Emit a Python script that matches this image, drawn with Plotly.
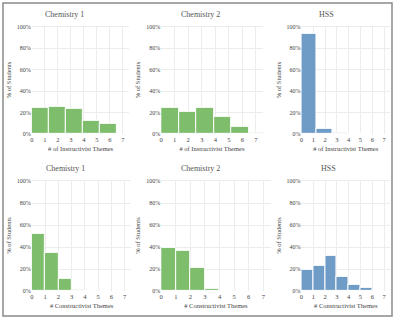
import plotly.graph_objects as go

# ---- data ----
tick_vals = [0, 1, 2, 3, 4, 5, 6, 7]
y_ticks = [0, 20, 40, 60, 80, 100]
y_tick_text = ["0%", "20%", "40%", "60%", "80%", "100%"]
panel_titles = ["Chemistry 1", "Chemistry 2", "HSS"]

instr_bin_width = 1.3
instr_chem1 = [24.2, 25.4, 23.3, 12.8, 10.0]
instr_chem2 = [24.2, 20.8, 24.2, 16.2, 7.2, 1.3]
instr_hss = [94.0, 4.5, 0.8, 0.5]

constr_bin_width = 1.0
constr_chem1 = [52.2, 34.4, 10.8, 1.6, 0.3]
constr_chem2 = [39.6, 36.2, 21.0, 2.5]
constr_hss = [19.6, 23.2, 32.0, 13.2, 5.8, 2.6]

GREEN = "#7dbd6b"
BLUE = "#6f9bc7"
FONT = "Liberation Serif, Times New Roman, serif"
TEXT = "#444"

rows = [
    ([instr_chem1, instr_chem2, instr_hss], instr_bin_width, "# of Instructivist Themes"),
    ([constr_chem1, constr_chem2, constr_hss], constr_bin_width, "# Constructivist Themes"),
]
colors = [GREEN, GREEN, BLUE]

W, H = 398, 320
ML, MT, MR, MB = 1, 1, 6, 4
PW, PH = W - ML - MR, H - MT - MB


def fx(px):
    return (px - ML) / PW


def fy(py):
    return (H - MB - py) / PH


x_px = [[(30, 128), (160, 262), (301, 390)],
        [(30, 130), (160, 270), (301, 390)]]
y_px = [(24, 133), (179, 291)]
title_px = [[(63, 12.5), (200, 12.5), (326, 12.5)],
            [(64, 167.5), (200, 167.5), (328, 167.5)]]

fig = go.Figure()
annotations = []
k = 0
for r, (series, bw, xtitle) in enumerate(rows):
    for c in range(3):
        k += 1
        vals = series[c]
        xs = [i * bw + bw / 2 for i in range(len(vals))]
        xa = "x" if k == 1 else f"x{k}"
        ya = "y" if k == 1 else f"y{k}"
        fig.add_trace(go.Bar(
            x=xs, y=vals, width=[bw] * len(vals), xaxis=xa, yaxis=ya,
            marker=dict(color=colors[c], line=dict(color="white", width=1)),
            showlegend=False, hoverinfo="skip",
        ))
        xkey = "xaxis" if k == 1 else f"xaxis{k}"
        ykey = "yaxis" if k == 1 else f"yaxis{k}"
        fig.layout[xkey] = go.layout.XAxis(
            domain=[fx(x_px[r][c][0]), fx(x_px[r][c][1])], anchor=ya,
            range=[0, 7.5], tickmode="array", tickvals=tick_vals,
            ticktext=[str(v) for v in tick_vals],
            showgrid=True, gridcolor="#ececec",
            gridwidth=1, zeroline=False, showline=False, ticks="",
            tickfont=dict(family=FONT, size=6.5, color=TEXT),
            title=dict(text=xtitle, font=dict(family=FONT, size=6.5, color=TEXT), standoff=4),
        )
        fig.layout[ykey] = go.layout.YAxis(
            domain=[fy(y_px[r][1]), fy(y_px[r][0])], anchor=xa,
            range=[0, 101], tickmode="array", tickvals=y_ticks, ticktext=y_tick_text,
            showgrid=True, gridcolor="#ececec", gridwidth=1, zeroline=False,
            showline=False, ticks="",
            tickfont=dict(family=FONT, size=6, color=TEXT),
            title=dict(text="% of Students", font=dict(family=FONT, size=6.5, color=TEXT), standoff=4),
        )
        tx, ty = title_px[r][c]
        annotations.append(dict(
            text=panel_titles[c], xref="paper", yref="paper", x=fx(tx), y=fy(ty),
            xanchor="center", yanchor="middle", showarrow=False,
            font=dict(family=FONT, size=8, color="#555"),
        ))

fig.update_layout(
    width=W, height=H, margin=dict(l=ML, r=MR, t=MT, b=MB),
    font=dict(family=FONT, color=TEXT),
    paper_bgcolor="white", plot_bgcolor="white", bargap=0,
    annotations=annotations,
    shapes=[dict(type="rect", xref="paper", yref="paper", x0=0, y0=0, x1=1, y1=1,
                 line=dict(color="#8a8a8a", width=1.5))],
)
fig.write_html("out.html")
